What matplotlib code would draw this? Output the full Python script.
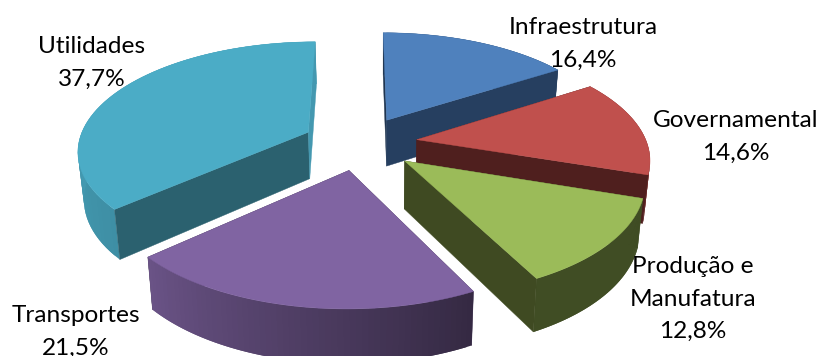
import numpy as np
import matplotlib
matplotlib.use("Agg")
import matplotlib.pyplot as plt
from matplotlib.patches import Polygon

# Share of each sector, clockwise from twelve o'clock
categories = ["Infraestrutura", "Governamental", "Produção e\nManufatura", "Transportes", "Utilidades"]
values = [16.4, 14.6, 12.8, 21.5, 37.7]

top_colors = ["#4F81BD", "#C0504D", "#9BBB59", "#8064A2", "#4BACC6"]
cut_colors = ["#263F60", "#4F1F1E", "#3F4A22", "#3F3151", "#2B616F"]
back_cut_colors = ["#1F3550", "#4F1F1E", "#3F4A22", "#3F3151", "#4498B0"]

label_xy = [(583, 44), (736, 137), (693, 299), (76, 332), (92, 63)]

# Camera model of the 3-D pie
CX, CY = 360.0, 143.0
RX, RY = 230.0, 107.5
PERSP = 0.155
EXPLODE = 0.25
DEPTH = 47.0
NADIR_X = 380.0


def project(px, py):
    s = 1.0 / (1.0 + PERSP * py)
    return CX + RX * px * s, CY - RY * py * s, s


def drop(x, y, s):
    return NADIR_X + (x - NADIR_X) * 0.98, y + DEPTH * (1 + 0.7 * (s - 1))


def wall_shade(theta):
    return np.interp(theta, [57, 90, 107, 109, 153, 228, 270, 360],
                     [0.55, 0.62, 0.62, 0.41, 0.41, 0.83, 0.90, 0.90])


def scaled(color, factor):
    return tuple(c * factor for c in matplotlib.colors.to_rgb(color))


def hangs_in_view(apex, rim, inner):
    """True when the wall under the edge apex-rim is not behind the top face."""
    if abs(rim[0] - apex[0]) < 1e-6:
        return True
    line_y = apex[1] + (rim[1] - apex[1]) * (inner[0] - apex[0]) / (rim[0] - apex[0])
    return inner[1] < line_y


fig = plt.figure(figsize=(8.22, 3.56), dpi=100)
ax = fig.add_axes([0, 0, 1, 1])
ax.set_xlim(0, 822)
ax.set_ylim(356, 0)
ax.axis("off")


def face(points, color, z):
    ax.add_patch(Polygon(points, closed=True, facecolor=color, edgecolor=color,
                         linewidth=0.3, zorder=z))


total = sum(values)
edges = np.concatenate([[0], np.cumsum(values)]) / total * 360.0
draw_order = [0, 1, 2, 4, 3]

for rank, i in enumerate(draw_order):
    start, stop = edges[i], edges[i + 1]
    mid = np.radians((start + stop) / 2)
    ox, oy = EXPLODE * np.sin(mid), EXPLODE * np.cos(mid)
    thetas = np.linspace(start, stop, 61)
    rad = np.radians(thetas)
    ax_x, ax_y, ax_s = project(ox, oy)
    arc_x, arc_y, arc_s = project(ox + np.sin(rad), oy + np.cos(rad))
    low_x, low_y = drop(arc_x, arc_y, arc_s)
    apex_low = drop(ax_x, ax_y, ax_s)
    z = 2 + rank * 6
    inner = (arc_x[30], arc_y[30])

    # Cut faces: hidden ones go under the rounded wall, visible ones over it
    for idx, angle, layer in ((0, start, 1), (-1, stop, 2)):
        color = back_cut_colors[i] if angle < 1 or angle > 359 else cut_colors[i]
        rim = (arc_x[idx], arc_y[idx])
        level = z + layer + 2 if hangs_in_view((ax_x, ax_y), rim, inner) else z
        face([(ax_x, ax_y), rim, (low_x[idx], low_y[idx]), apex_low], color, level)

    # Rounded wall as overlapping strips so no seams show between them
    n = len(thetas)
    for k in range(n - 1):
        j = min(k + 2, n - 1)
        shade = scaled(top_colors[i], wall_shade((thetas[k] + thetas[k + 1]) / 2))
        strip = np.vstack([np.column_stack([arc_x[k:j + 1], arc_y[k:j + 1]]),
                           np.column_stack([low_x[k:j + 1], low_y[k:j + 1]])[::-1]])
        ax.add_patch(Polygon(strip, closed=True, facecolor=shade, edgecolor="none",
                             linewidth=0, zorder=z + 1))

    face(np.vstack([[ax_x, ax_y], np.column_stack([arc_x, arc_y])]), top_colors[i], z + 5)

for name, val, (x, y) in zip(categories, values, label_xy):
    text = f"{name}\n{val:.1f}%".replace(".", ",")
    ax.text(x, y, text, ha="center", va="center", family="Lato", fontsize=17.6,
            color="#000000", linespacing=1.65, zorder=60)

fig.savefig("out.png", dpi=100)
